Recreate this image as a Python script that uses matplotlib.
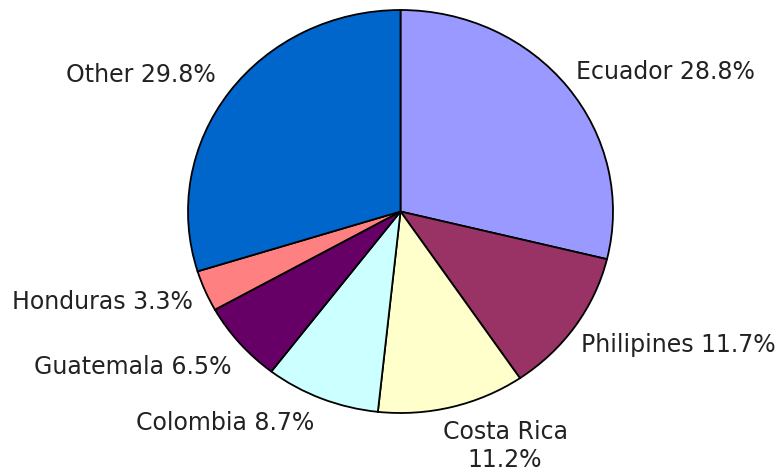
import numpy as np
import matplotlib
matplotlib.use("Agg")
import matplotlib.pyplot as plt

# banana export share by country
countries = ["Ecuador", "Philipines", "Costa Rica", "Colombia", "Guatemala", "Honduras", "Other"]
shares = [28.8, 11.7, 11.2, 8.7, 6.5, 3.3, 29.8]
colors = ["#9999FF", "#993366", "#FFFFCC", "#CCFFFF", "#660066", "#FF8080", "#0066CC"]
label_texts = ["Ecuador 28.8%", "Philipines 11.7%", "Costa Rica\n11.2%", "Colombia 8.7%",
               "Guatemala 6.5%", "Honduras 3.3%", "Other 29.8%"]
# label offsets (pixels) from the wedge's outer edge midpoint
label_offsets = [(98, 15), (103, -19), (53, -39), (-97, -24), (-107, -24), (-103, -11), (-88, 17)]

fig = plt.figure(figsize=(7.82, 4.72), dpi=100)
ax = fig.add_axes([188 / 782, 59 / 472, 425 / 782, 403 / 472])

wedges, _ = ax.pie(shares, colors=colors, startangle=90, counterclock=False,
                   wedgeprops=dict(edgecolor="black", linewidth=1.3))
ax.set_aspect("auto")
ax.set_xlim(-1, 1)
ax.set_ylim(-1, 1)
ax.axis("off")

for w, txt, (dx, dy) in zip(wedges, label_texts, label_offsets):
    ang = np.deg2rad((w.theta1 + w.theta2) / 2)
    ax.annotate(txt, xy=(np.cos(ang), np.sin(ang)), xytext=(dx, dy),
                textcoords="offset pixels", ha="center", va="center",
                fontsize=17, color="#222222", linespacing=1.2)

fig.savefig("out.png", dpi=100)
